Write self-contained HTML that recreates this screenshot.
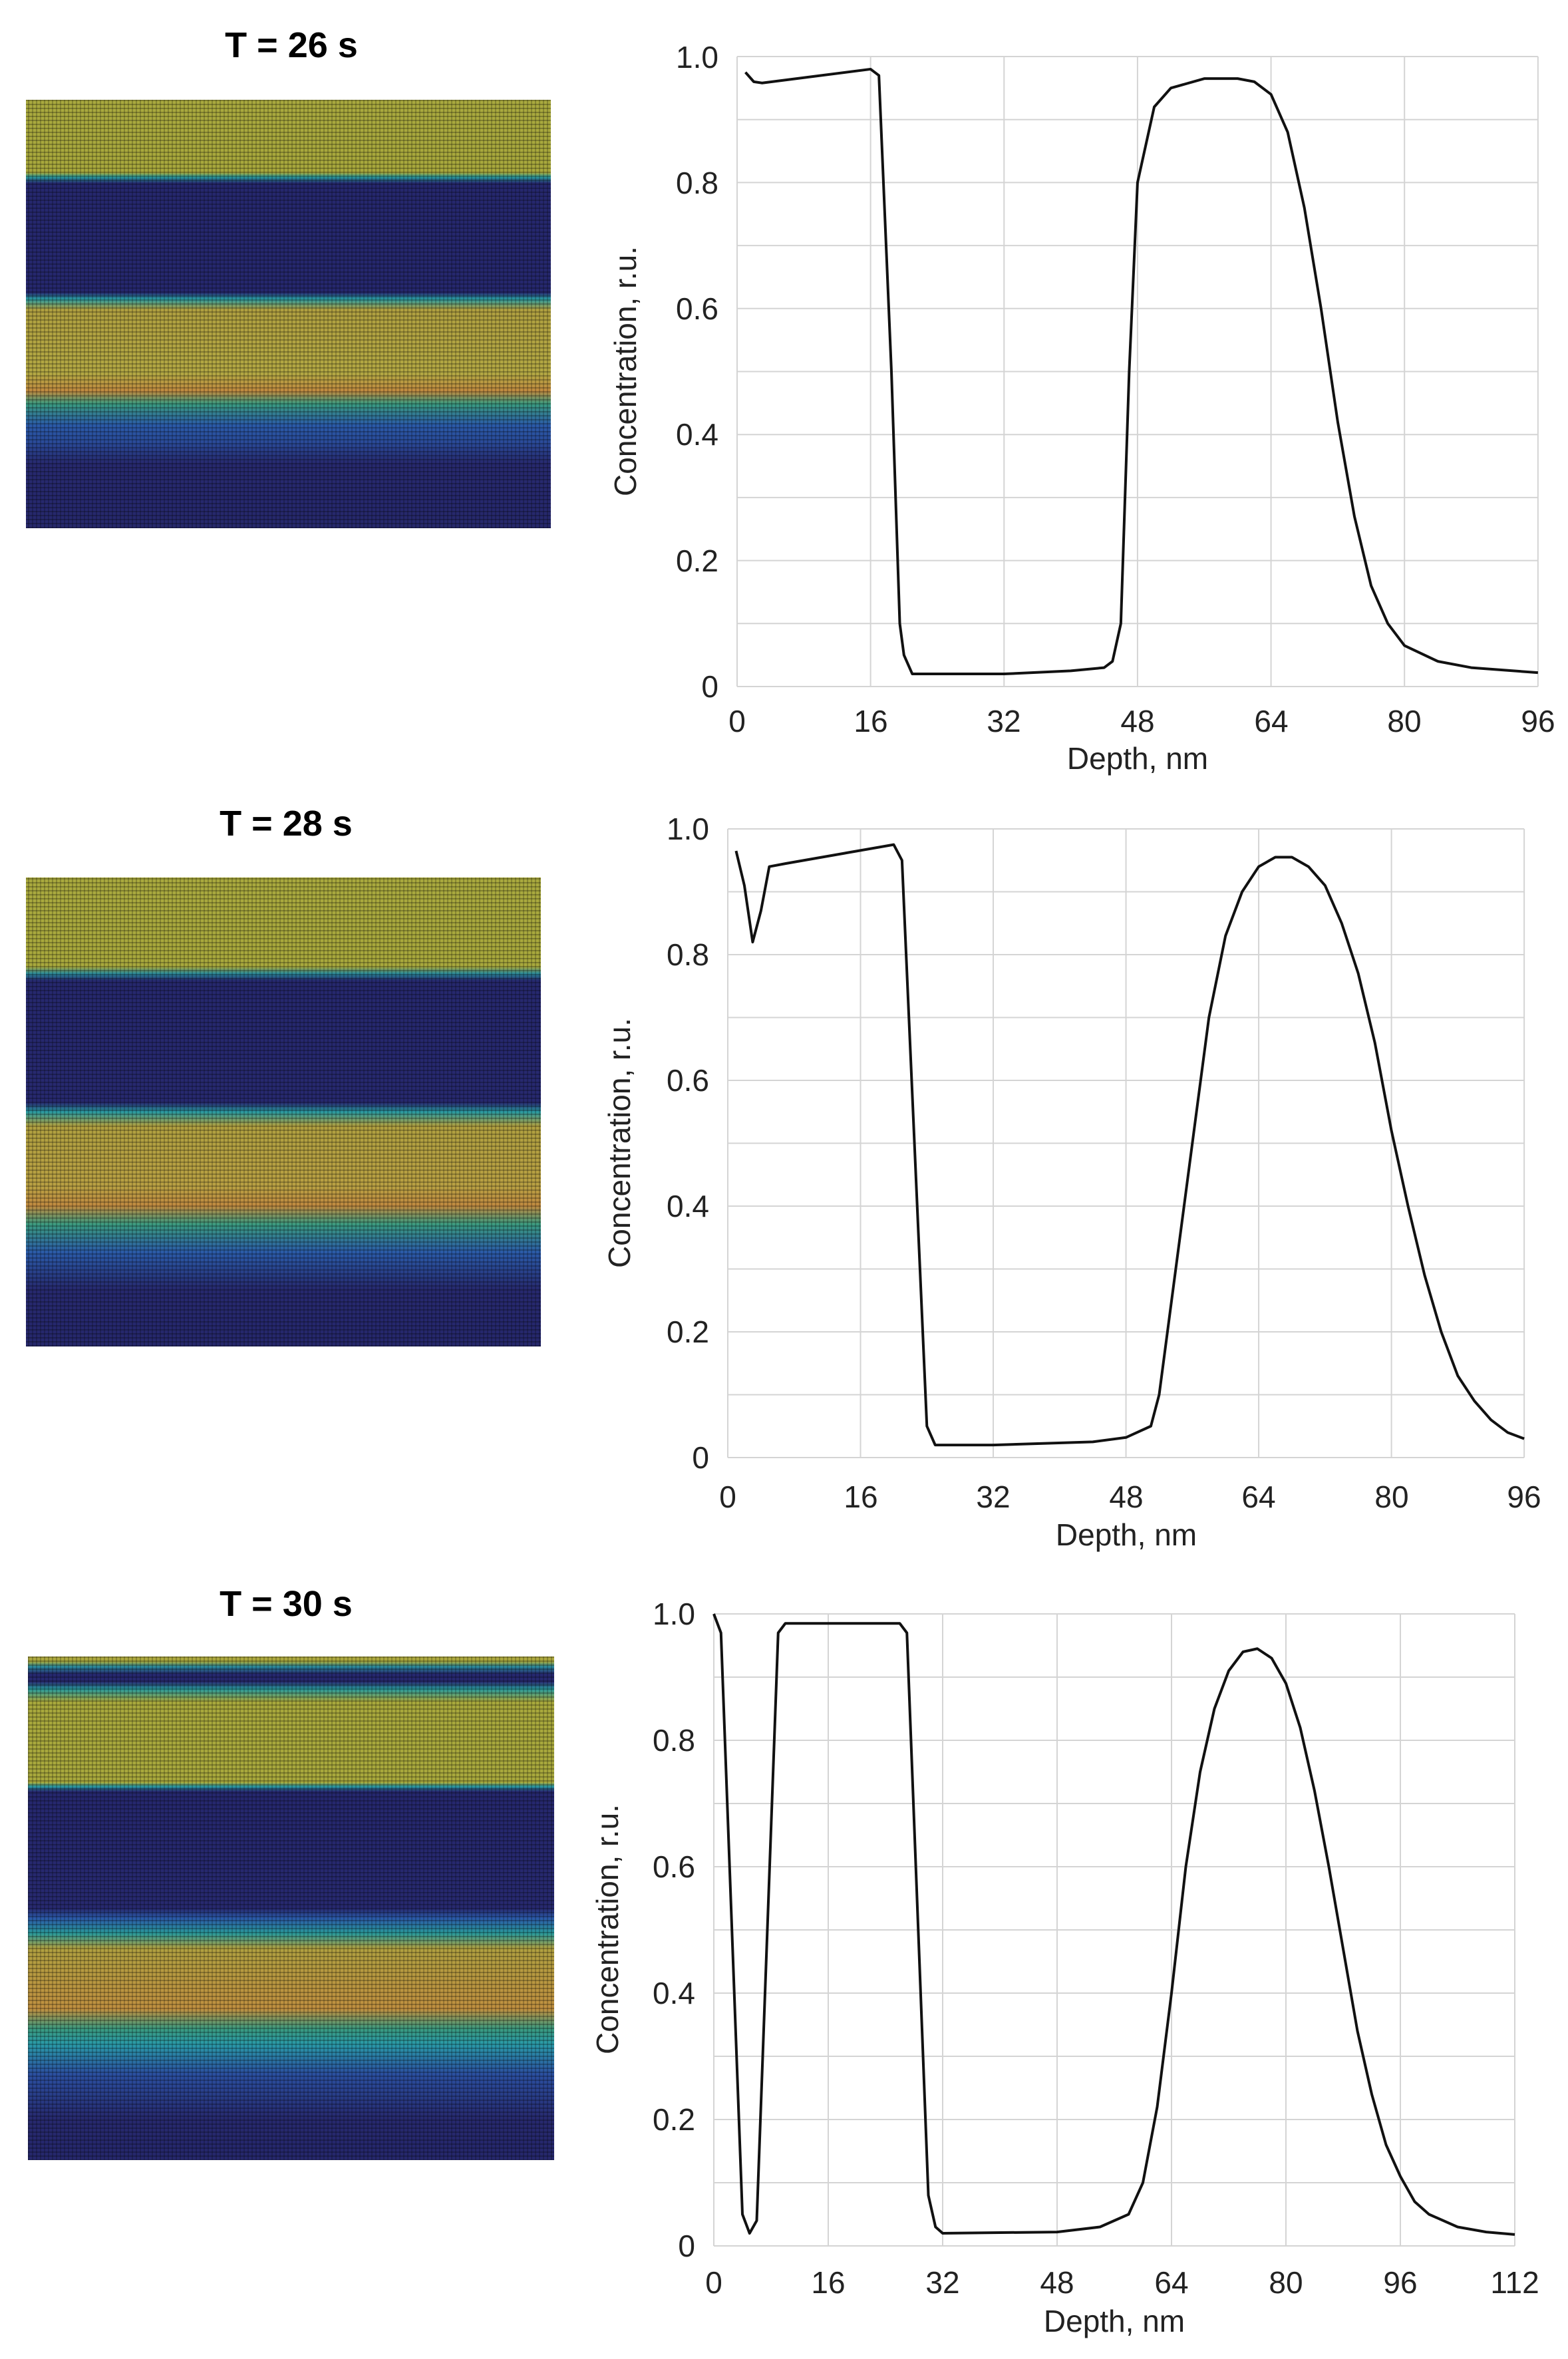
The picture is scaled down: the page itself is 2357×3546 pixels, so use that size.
<!DOCTYPE html>
<html><head><meta charset="utf-8"><style>
html,body{margin:0;padding:0;background:#fff;}
svg{display:block;}
text{font-family:"Liberation Sans",sans-serif;fill:#222;}
.t{font-weight:bold;font-size:54px;text-anchor:middle;fill:#000;}
.tk{font-size:46px;}
.yl{font-size:46px;text-anchor:end;}
.xl{font-size:46px;text-anchor:middle;}
.g line{stroke:#d4d4d4;stroke-width:2;vector-effect:non-scaling-stroke;}
.c{fill:none;stroke:#111;stroke-width:4;vector-effect:non-scaling-stroke;stroke-linejoin:round;}
.ax{stroke:#000;stroke-width:3;vector-effect:non-scaling-stroke;}
</style></head><body>
<svg width="2357" height="3546" viewBox="0 0 2357 3546" xmlns="http://www.w3.org/2000/svg">
<defs>
<linearGradient id="h1" x1="0" y1="0" x2="0" y2="1">
<stop offset="0" stop-color="#a9a93e"/><stop offset="0.17" stop-color="#a8a83c"/>
<stop offset="0.18" stop-color="#2a9a9a"/><stop offset="0.195" stop-color="#26286e"/>
<stop offset="0.45" stop-color="#26286e"/><stop offset="0.465" stop-color="#2a9aa0"/>
<stop offset="0.49" stop-color="#b0a040"/><stop offset="0.64" stop-color="#b3a843"/>
<stop offset="0.68" stop-color="#c08a40"/><stop offset="0.71" stop-color="#3a9a80"/>
<stop offset="0.76" stop-color="#2b5aa8"/><stop offset="0.8" stop-color="#2a4a98"/>
<stop offset="0.85" stop-color="#27296e"/><stop offset="1" stop-color="#26286c"/>
</linearGradient>
<linearGradient id="h2" x1="0" y1="0" x2="0" y2="1">
<stop offset="0" stop-color="#a9a93e"/><stop offset="0.19" stop-color="#a8a83c"/>
<stop offset="0.205" stop-color="#2a8a9a"/><stop offset="0.22" stop-color="#26286e"/>
<stop offset="0.48" stop-color="#27296f"/><stop offset="0.5" stop-color="#2a9aa0"/>
<stop offset="0.53" stop-color="#b0a040"/><stop offset="0.66" stop-color="#b9a043"/>
<stop offset="0.7" stop-color="#c08a40"/><stop offset="0.74" stop-color="#3a9a80"/>
<stop offset="0.8" stop-color="#2b5aa8"/><stop offset="0.88" stop-color="#27296e"/>
<stop offset="1" stop-color="#26286c"/>
</linearGradient>
<linearGradient id="h3" x1="0" y1="0" x2="0" y2="1">
<stop offset="0" stop-color="#b0a840"/><stop offset="0.01" stop-color="#a8a83c"/>
<stop offset="0.02" stop-color="#2a8a9a"/><stop offset="0.035" stop-color="#26286e"/>
<stop offset="0.05" stop-color="#27296f"/><stop offset="0.065" stop-color="#2a9a9a"/>
<stop offset="0.09" stop-color="#a8a83c"/><stop offset="0.25" stop-color="#a8a83c"/>
<stop offset="0.258" stop-color="#2a9aa0"/><stop offset="0.268" stop-color="#26286e"/>
<stop offset="0.5" stop-color="#27296f"/><stop offset="0.52" stop-color="#2b5aa8"/>
<stop offset="0.55" stop-color="#2a9a9a"/><stop offset="0.58" stop-color="#b0a040"/>
<stop offset="0.7" stop-color="#c09040"/><stop offset="0.74" stop-color="#3a9a80"/>
<stop offset="0.77" stop-color="#2a9aa8"/><stop offset="0.83" stop-color="#2b4fa0"/>
<stop offset="0.92" stop-color="#27296e"/><stop offset="1" stop-color="#26286c"/>
</linearGradient>
<pattern id="gr" width="6" height="6" patternUnits="userSpaceOnUse">
<rect x="0" y="0" width="6" height="2" fill="#000" opacity="0.25"/>
<rect x="0" y="0" width="2" height="6" fill="#000" opacity="0.2"/>
</pattern>
</defs>

<!-- Panel 1 -->
<text class="t" x="438" y="86">T = 26 s</text>
<rect x="39" y="150" width="789" height="644" fill="url(#h1)"/>
<rect x="39" y="150" width="789" height="644" fill="url(#gr)"/>
<g class="g" transform="translate(1108,1032) scale(12.54,-947)">
<line x1="0" y1="0.1" x2="96" y2="0.1"/><line x1="0" y1="0.2" x2="96" y2="0.2"/><line x1="0" y1="0.3" x2="96" y2="0.3"/><line x1="0" y1="0.4" x2="96" y2="0.4"/><line x1="0" y1="0.5" x2="96" y2="0.5"/><line x1="0" y1="0.6" x2="96" y2="0.6"/><line x1="0" y1="0.7" x2="96" y2="0.7"/><line x1="0" y1="0.8" x2="96" y2="0.8"/><line x1="0" y1="0.9" x2="96" y2="0.9"/><line x1="0" y1="1" x2="96" y2="1"/>
<line x1="16" y1="0" x2="16" y2="1"/><line x1="32" y1="0" x2="32" y2="1"/><line x1="48" y1="0" x2="48" y2="1"/><line x1="64" y1="0" x2="64" y2="1"/><line x1="80" y1="0" x2="80" y2="1"/><line x1="96" y1="0" x2="96" y2="1"/>
<line class="ax" x1="0" y1="0" x2="96" y2="0"/><line class="ax" x1="0" y1="0" x2="0" y2="1"/>
<polyline class="c" points="1,0.975 2,0.96 3,0.958 16,0.98 17,0.97 18.5,0.5 19.5,0.1 20,0.05 21,0.02 32,0.02 40,0.025 44,0.03 45,0.04 46,0.1 47,0.5 48,0.8 50,0.92 52,0.95 56,0.965 60,0.965 62,0.96 64,0.94 66,0.88 68,0.76 70,0.6 72,0.42 74,0.27 76,0.16 78,0.1 80,0.065 84,0.04 88,0.03 96,0.022"/>
</g>
<g class="tk">
<text class="yl" x="1080" y="1048">0</text><text class="yl" x="1080" y="859">0.2</text><text class="yl" x="1080" y="669">0.4</text><text class="yl" x="1080" y="480">0.6</text><text class="yl" x="1080" y="291">0.8</text><text class="yl" x="1080" y="102">1.0</text>
<text class="xl" x="1108" y="1100">0</text><text class="xl" x="1309" y="1100">16</text><text class="xl" x="1509" y="1100">32</text><text class="xl" x="1710" y="1100">48</text><text class="xl" x="1911" y="1100">64</text><text class="xl" x="2111" y="1100">80</text><text class="xl" x="2312" y="1100">96</text>
<text class="xl" x="1710" y="1156">Depth, nm</text>
<text class="xl" transform="translate(956,558) rotate(-90)">Concentration, r.u.</text>
</g>

<!-- Panel 2 -->
<text class="t" x="430" y="1256">T = 28 s</text>
<rect x="39" y="1319" width="774" height="705" fill="url(#h2)"/>
<rect x="39" y="1319" width="774" height="705" fill="url(#gr)"/>
<g class="g" transform="translate(1094,2191) scale(12.47,-945)">
<line x1="0" y1="0.1" x2="96" y2="0.1"/><line x1="0" y1="0.2" x2="96" y2="0.2"/><line x1="0" y1="0.3" x2="96" y2="0.3"/><line x1="0" y1="0.4" x2="96" y2="0.4"/><line x1="0" y1="0.5" x2="96" y2="0.5"/><line x1="0" y1="0.6" x2="96" y2="0.6"/><line x1="0" y1="0.7" x2="96" y2="0.7"/><line x1="0" y1="0.8" x2="96" y2="0.8"/><line x1="0" y1="0.9" x2="96" y2="0.9"/><line x1="0" y1="1" x2="96" y2="1"/>
<line x1="16" y1="0" x2="16" y2="1"/><line x1="32" y1="0" x2="32" y2="1"/><line x1="48" y1="0" x2="48" y2="1"/><line x1="64" y1="0" x2="64" y2="1"/><line x1="80" y1="0" x2="80" y2="1"/><line x1="96" y1="0" x2="96" y2="1"/>
<line class="ax" x1="0" y1="0" x2="96" y2="0"/><line class="ax" x1="0" y1="0" x2="0" y2="1"/>
<polyline class="c" points="1,0.965 2,0.91 3,0.82 4,0.87 5,0.94 7,0.945 20,0.975 21,0.95 22.5,0.5 24,0.05 25,0.02 32,0.02 44,0.025 48,0.032 51,0.05 52,0.1 54,0.3 56,0.5 58,0.7 60,0.83 62,0.9 64,0.94 66,0.955 68,0.955 70,0.94 72,0.91 74,0.85 76,0.77 78,0.66 80,0.52 82,0.4 84,0.29 86,0.2 88,0.13 90,0.09 92,0.06 94,0.04 96,0.03"/>
</g>
<g class="tk">
<text class="yl" x="1066" y="2207">0</text><text class="yl" x="1066" y="2018">0.2</text><text class="yl" x="1066" y="1829">0.4</text><text class="yl" x="1066" y="1640">0.6</text><text class="yl" x="1066" y="1451">0.8</text><text class="yl" x="1066" y="1262">1.0</text>
<text class="xl" x="1094" y="2266">0</text><text class="xl" x="1294" y="2266">16</text><text class="xl" x="1493" y="2266">32</text><text class="xl" x="1693" y="2266">48</text><text class="xl" x="1892" y="2266">64</text><text class="xl" x="2092" y="2266">80</text><text class="xl" x="2291" y="2266">96</text>
<text class="xl" x="1693" y="2323">Depth, nm</text>
<text class="xl" transform="translate(947,1718) rotate(-90)">Concentration, r.u.</text>
</g>

<!-- Panel 3 -->
<text class="t" x="430" y="2429">T = 30 s</text>
<rect x="42" y="2490" width="791" height="757" fill="url(#h3)"/>
<rect x="42" y="2490" width="791" height="757" fill="url(#gr)"/>
<g class="g" transform="translate(1073,3376) scale(10.75,-950)">
<line x1="0" y1="0.1" x2="112" y2="0.1"/><line x1="0" y1="0.2" x2="112" y2="0.2"/><line x1="0" y1="0.3" x2="112" y2="0.3"/><line x1="0" y1="0.4" x2="112" y2="0.4"/><line x1="0" y1="0.5" x2="112" y2="0.5"/><line x1="0" y1="0.6" x2="112" y2="0.6"/><line x1="0" y1="0.7" x2="112" y2="0.7"/><line x1="0" y1="0.8" x2="112" y2="0.8"/><line x1="0" y1="0.9" x2="112" y2="0.9"/><line x1="0" y1="1" x2="112" y2="1"/>
<line x1="16" y1="0" x2="16" y2="1"/><line x1="32" y1="0" x2="32" y2="1"/><line x1="48" y1="0" x2="48" y2="1"/><line x1="64" y1="0" x2="64" y2="1"/><line x1="80" y1="0" x2="80" y2="1"/><line x1="96" y1="0" x2="96" y2="1"/><line x1="112" y1="0" x2="112" y2="1"/>
<line class="ax" x1="0" y1="0" x2="112" y2="0"/><line class="ax" x1="0" y1="0" x2="0" y2="1"/>
<polyline class="c" points="0,1 1,0.97 4,0.05 5,0.02 6,0.04 9,0.97 10,0.985 26,0.985 27,0.97 30,0.08 31,0.03 32,0.02 48,0.022 54,0.03 58,0.05 60,0.1 62,0.22 64,0.4 66,0.6 68,0.75 70,0.85 72,0.91 74,0.94 76,0.945 78,0.93 80,0.89 82,0.82 84,0.72 86,0.6 88,0.47 90,0.34 92,0.24 94,0.16 96,0.11 98,0.07 100,0.05 104,0.03 108,0.022 112,0.018"/>
</g>
<g class="tk">
<text class="yl" x="1045" y="3392">0</text><text class="yl" x="1045" y="3202">0.2</text><text class="yl" x="1045" y="3012">0.4</text><text class="yl" x="1045" y="2822">0.6</text><text class="yl" x="1045" y="2632">0.8</text><text class="yl" x="1045" y="2442">1.0</text>
<text class="xl" x="1073" y="3447">0</text><text class="xl" x="1245" y="3447">16</text><text class="xl" x="1417" y="3447">32</text><text class="xl" x="1589" y="3447">48</text><text class="xl" x="1761" y="3447">64</text><text class="xl" x="1933" y="3447">80</text><text class="xl" x="2105" y="3447">96</text><text class="xl" x="2277" y="3447">112</text>
<text class="xl" x="1675" y="3505">Depth, nm</text>
<text class="xl" transform="translate(929,2900) rotate(-90)">Concentration, r.u.</text>
</g>
</svg>
</body></html>
